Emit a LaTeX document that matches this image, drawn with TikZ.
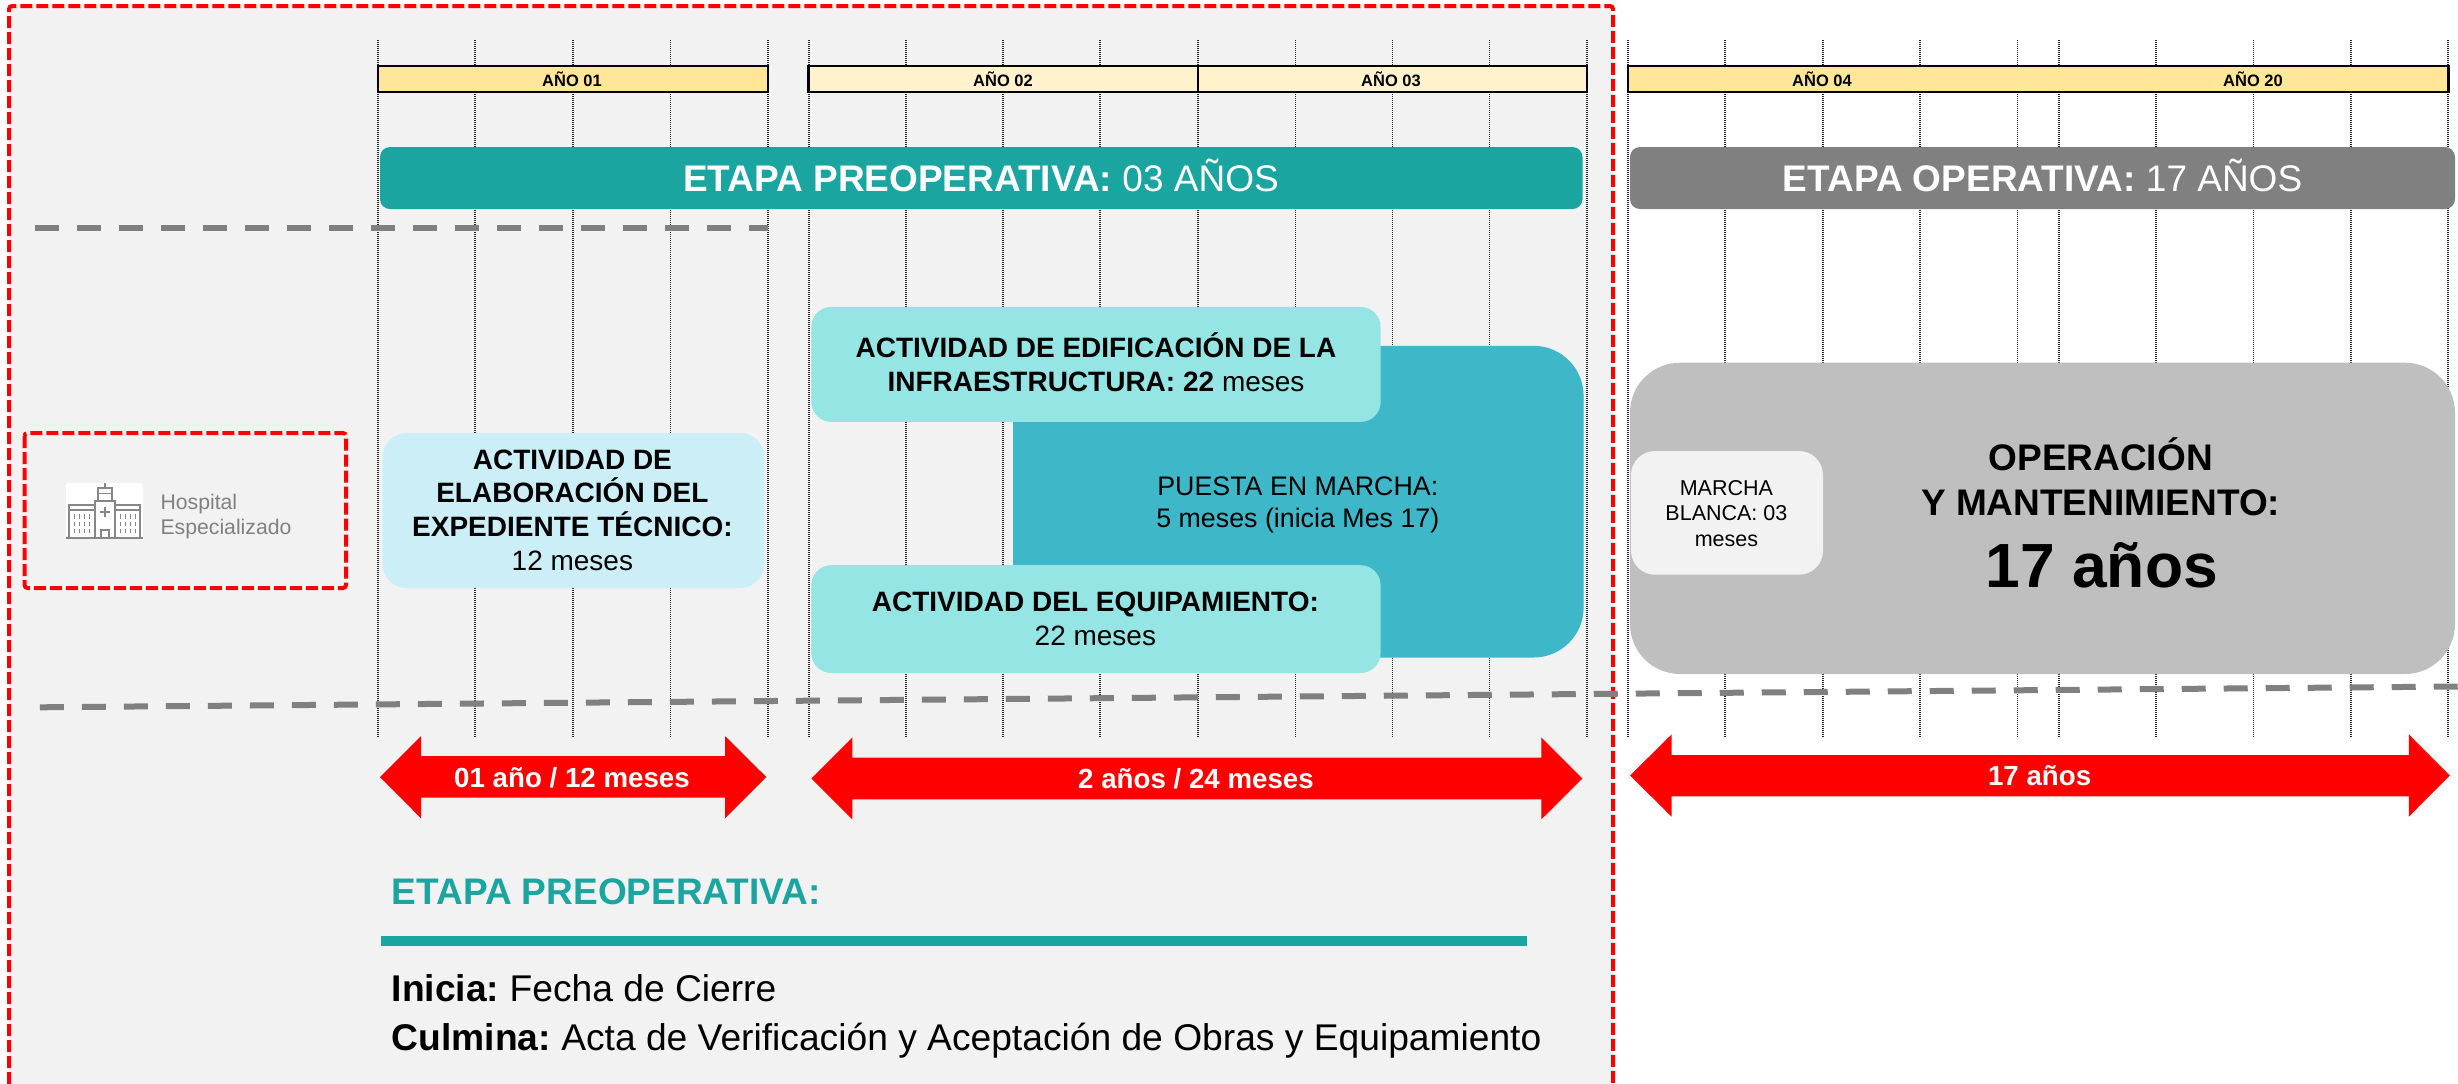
\documentclass[tikz,border=0pt]{standalone}
\usepackage{fontspec}
\setmainfont{Liberation Sans}
\frenchspacing
\definecolor{panel}{HTML}{F2F2F2}
\definecolor{redline}{HTML}{FF0000}
\definecolor{teal1}{HTML}{1AA5A0}
\definecolor{grey1}{HTML}{808080}
\definecolor{grey2}{HTML}{BFBFBF}
\definecolor{year1}{HTML}{FFE699}
\definecolor{year2}{HTML}{FFF2CC}
\definecolor{lblue}{HTML}{CCEFF7}
\definecolor{lteal}{HTML}{94E5E3}
\definecolor{mteal}{HTML}{3EB8C9}
\newcommand{\fsz}[2]{\fontsize{#1}{#2}\selectfont}
\tikzset{
  gridline/.style={draw=black!85,line width=0.9pt,dash pattern=on 0.5pt off 0.5pt},
  reddash/.style={draw=redline,line width=2pt,dash pattern=on 6pt off 2pt,rounded corners=1.5pt},
  greydash/.style={draw=grey1,line width=3pt,dash pattern=on 12pt off 9pt},
  yearbar/.style={draw=black,line width=1.3pt},
  yearlab/.style={anchor=base,inner sep=0pt,font=\bfseries\fsz{8.25}{10}},
  title/.style={anchor=base,inner sep=0pt,text=white,font=\fsz{18.5}{21}},
  bodytxt/.style={anchor=base,inner sep=0pt,align=center,font=\fsz{14}{16.9}},
  arrowtxt/.style={anchor=base,inner sep=0pt,text=white,font=\bfseries\fsz{13.85}{16}},
  icon/.style={draw=black!47,line width=1.1pt},
  iconwin/.style={draw=black!47,line width=0.7pt,dash pattern=on 2.2pt off 1.4pt},
}
\begin{document}
\begin{tikzpicture}[x=0.5pt,y=-0.5pt]
\useasboundingbox (0,0) rectangle (2458,1083);
\clip (0,0) rectangle (2458,1083);
\fill[white] (0,0) rectangle (2458,1083);
% panel
\fill[panel] (9,6) rectangle (1613,1100);
\foreach \x in {378,475,573,670.5,768,808.7,906.3,1003.3,1100.3,1197.9,1295.5,1392.5,1489.5,1587,1628,1725.3,1822.7,1920.1,2017.5,2058.6,2156,2253.4,2350.8,2448.2}
  \draw[gridline] (\x,40) -- (\x,737);
\draw[reddash] (9,1100) -- (9,6) -- (1613,6) -- (1613,1100);
% year bars
\draw[yearbar,fill=year1] (378,66) rectangle (768,92);
\draw[yearbar,fill=year2] (808.7,66) rectangle (1587,92);
\draw[black,line width=0.8pt] (1197.9,66) -- (1197.9,92);
\draw[yearbar,fill=year1] (1628,66) rectangle (2448.2,92);
\node[yearlab] (y1) at (572,86) {AÑO 01};
\node[yearlab] (y2) at (1003,86) {AÑO 02};
\node[yearlab] (y3) at (1391,86) {AÑO 03};
\node[yearlab] (y4) at (1822,86) {AÑO 04};
\node[yearlab] (y20) at (2253,86) {AÑO 20};
% stage bars
\fill[teal1,rounded corners=5pt] (380,147) rectangle (1582.5,209);
\fill[grey1,rounded corners=5pt] (1630,147) rectangle (2455,209);
\node[title] (tpre) at (981,191.7) {\textbf{ETAPA PREOPERATIVA:} 03 AÑOS};
\node[title] (top) at (2042.5,191.7) {\textbf{ETAPA OPERATIVA:} 17 AÑOS};
% dashed dividers
\draw[greydash] (34.5,228) -- (768,228);
% hospital
\draw[reddash,dash pattern=on 6pt off 2pt] (24.5,433) rectangle (346,588);
\fill[white] (66,482.7) rectangle (142.7,538);
\draw[icon] (66,538) -- (142.7,538);
\draw[icon] (95,538) -- (95,500.7) -- (115,500.7) -- (115,538);
\draw[icon] (97.7,500.7) -- (97.7,488.3) -- (112.3,488.3) -- (112.3,500.7);
\draw[icon,line width=0.8pt] (97.7,493.3) -- (112.3,493.3);
\draw[icon,line width=0.8pt] (105,483.3) -- (105,488.3);
\draw[icon] (69.3,538) -- (69.3,505) -- (95,505);
\draw[icon] (115,505) -- (140,505) -- (140,538);
\draw[icon,line width=0.8pt] (69.3,510) -- (95,510);
\draw[icon,line width=0.8pt] (115,510) -- (140,510);
\draw[icon] (100,511.7) -- (110,511.7);
\draw[icon] (105,506.7) -- (105,516.7);
\draw[icon] (101,538) -- (101,530) -- (109,530) -- (109,538);
\foreach \x in {74.3,79.3,84.3,89.3,120.3,125.3,130.3,135.3}
  \draw[iconwin] (\x,514.3) -- (\x,533.3);
\node[anchor=base,inner sep=0pt,align=left,text=grey1,font=\fsz{10.6}{12.5}] (hosp) at (226,534) {Hospital\\Especializado};
% activity boxes
\fill[lblue,rounded corners=12pt] (382.6,433) rectangle (764.3,588);
\fill[mteal,rounded corners=25pt] (1013,345.8) rectangle (1583.6,657.5);
\fill[lteal,rounded corners=10pt] (811.3,306.9) rectangle (1380.6,421.9);
\fill[lteal,rounded corners=10pt] (811.3,565.2) rectangle (1380.6,673);
\fill[grey2,rounded corners=25pt] (1630,362.7) rectangle (2455,674);
\fill[panel,rounded corners=12pt] (1631,451) rectangle (1823,574.7);
\node[bodytxt] (exp) at (572.4,570.5) {\textbf{ACTIVIDAD DE}\\\textbf{ELABORACIÓN DEL}\\\textbf{EXPEDIENTE TÉCNICO:}\\12 meses};
\node[bodytxt] (edi) at (1096,391.3) {\textbf{ACTIVIDAD DE EDIFICACIÓN DE LA}\\\textbf{INFRAESTRUCTURA: 22} meses};
\node[bodytxt] (equ) at (1095.4,645.4) {\textbf{ACTIVIDAD DEL EQUIPAMIENTO:}\\22 meses};
\node[bodytxt,font=\fsz{13.4}{15.8}] (pue) at (1297.8,527.3) {PUESTA EN MARCHA:\\5 meses (inicia Mes 17)};
\node[bodytxt,font=\fsz{10.75}{12.9}] (mar) at (1726.4,546.7) {MARCHA\\BLANCA: 03\\meses};
\node[bodytxt,font=\bfseries\fsz{18.5}{22.5}] (ope) at (2100.7,515.7) {OPERACIÓN\\Y MANTENIMIENTO:};
\node[anchor=base,inner sep=0pt,font=\bfseries\fsz{31.2}{36}] (ani) at (2101.8,587.3) {17 años};
\draw[greydash] (39.8,707.3) -- (2458,686.5);
% double arrows
\fill[redline] (380,777) -- (421,736) -- (421,756) -- (725,756) -- (725,736) -- (766.3,777) -- (725,818.3) -- (725,797.7) -- (421,797.7) -- (421,818.3) -- cycle;
\fill[redline] (811.3,778.5) -- (852.4,737.4) -- (852.4,757.7) -- (1541.3,757.7) -- (1541.3,737.4) -- (1582.4,778.5) -- (1541.3,819.4) -- (1541.3,799.4) -- (852.4,799.4) -- (852.4,819.4) -- cycle;
\fill[redline] (1630,775.5) -- (1671.7,734.3) -- (1671.7,755) -- (2408.8,755) -- (2408.8,734.3) -- (2449.8,775.5) -- (2408.8,816.7) -- (2408.8,796.3) -- (1671.7,796.3) -- (1671.7,816.7) -- cycle;
\node[arrowtxt] (a1) at (572,787.3) {01 año / 12 meses};
\node[arrowtxt] (a2) at (1196,788.4) {2 años / 24 meses};
\node[arrowtxt] (a3) at (2039.6,785) {17 años};
% notes
\node[anchor=base west,inner sep=0pt,text=teal1,font=\bfseries\fsz{18.5}{20}] (hd) at (391.4,904.3) {ETAPA PREOPERATIVA:};
\fill[teal1] (380.6,936) rectangle (1527,946);
\node[anchor=base west,inner sep=0pt,font=\fsz{18.6}{20}] (ini) at (391.4,1001.7) {\textbf{Inicia:} Fecha de Cierre};
\node[anchor=base west,inner sep=0pt,font=\fsz{18.6}{20}] (cul) at (391.4,1050.7) {\textbf{Culmina:} Acta de Verificación y Aceptación de Obras y Equipamiento};
\end{tikzpicture}
\end{document}
